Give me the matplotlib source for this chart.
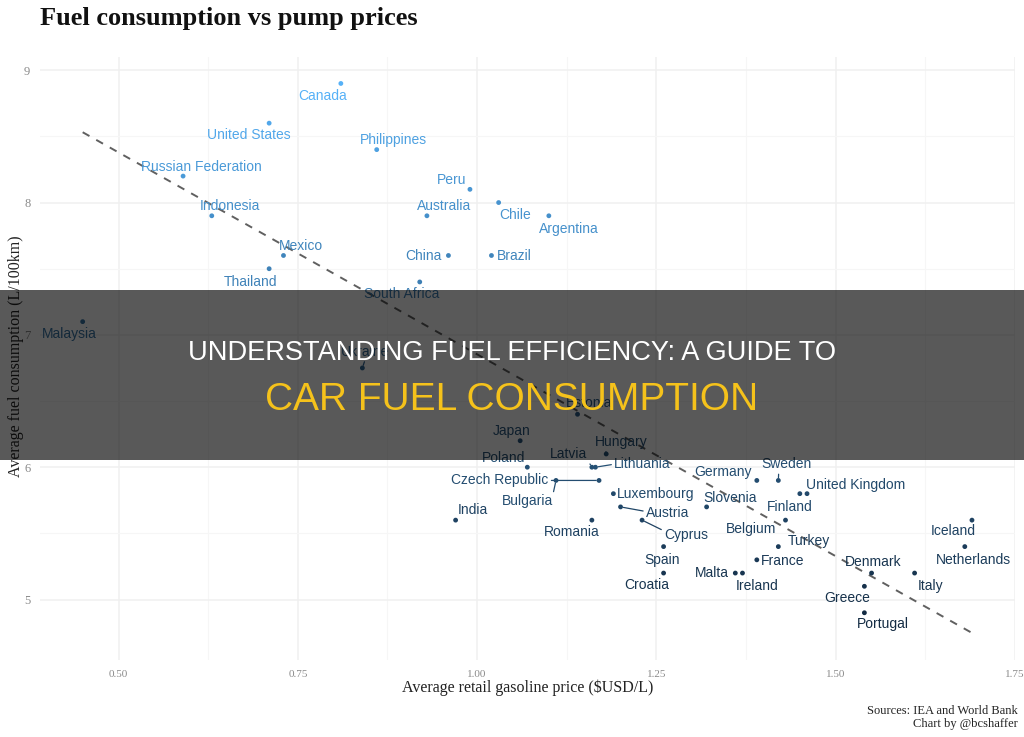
import numpy as np
import matplotlib.pyplot as plt
from matplotlib.colors import LinearSegmentedColormap
from matplotlib.patches import Rectangle

# data
countries = ['Canada', 'United States', 'Philippines', 'Russian Federation', 'Peru', 'Chile',
             'Indonesia', 'Australia', 'Argentina', 'Mexico', 'China', 'Brazil', 'Thailand',
             'South Africa', 'Malaysia', 'Ukraine', 'Estonia', 'Japan', 'Hungary', 'Poland',
             'Latvia', 'Lithuania', 'Czech Republic', 'Bulgaria', 'Luxembourg', 'Austria',
             'India', 'Romania', 'Cyprus', 'Spain', 'Croatia', 'Germany', 'Sweden', 'Finland',
             'United Kingdom', 'Slovenia', 'Belgium', 'Turkey', 'France', 'Malta', 'Ireland',
             'Denmark', 'Greece', 'Portugal', 'Italy', 'Iceland', 'Netherlands']
price = [0.81, 0.71, 0.86, 0.59, 0.99, 1.03,
         0.63, 0.93, 1.10, 0.73, 0.96, 1.02, 0.71,
         0.92, 0.45, 0.84, 1.14, 1.06, 1.18, 1.07,
         1.16, 1.165, 1.17, 1.11, 1.19, 1.20,
         0.97, 1.16, 1.23, 1.26, 1.26, 1.39, 1.42, 1.45,
         1.46, 1.32, 1.43, 1.42, 1.39, 1.36, 1.37,
         1.55, 1.54, 1.54, 1.61, 1.69, 1.68]
fuel = [8.9, 8.6, 8.4, 8.2, 8.1, 8.0,
        7.9, 7.9, 7.9, 7.6, 7.6, 7.6, 7.5,
        7.4, 7.1, 6.75, 6.4, 6.2, 6.1, 6.0,
        6.0, 6.0, 5.9, 5.9, 5.8, 5.7,
        5.6, 5.6, 5.6, 5.4, 5.2, 5.9, 5.9, 5.8,
        5.8, 5.7, 5.6, 5.4, 5.3, 5.2, 5.2,
        5.2, 5.1, 4.9, 5.2, 5.6, 5.4]

xticks = [0.50, 0.75, 1.00, 1.25, 1.50, 1.75]
yticks = [5, 6, 7, 8, 9]

# where each label sits, in pixels from its point (right, down)
label_off = {
    'Canada': (-18, 13), 'United States': (-20, 12), 'Philippines': (17, -10),
    'Russian Federation': (18, -9), 'Peru': (-18, -9), 'Chile': (16, 12),
    'Indonesia': (18, -10), 'Australia': (17, -10), 'Argentina': (20, 13),
    'Mexico': (17, -9), 'China': (-25, 1), 'Brazil': (23, 1), 'Thailand': (-19, 13),
    'South Africa': (-18, 12), 'Malaysia': (-13, 12), 'Ukraine': (3, -16),
    'Estonia': (12, -11), 'Japan': (-8, -10), 'Hungary': (15, -12), 'Poland': (-24, -9),
    'Latvia': (-23, -13), 'Lithuania': (47, -3), 'Czech Republic': (-99, 0),
    'Bulgaria': (-29, 21), 'Luxembourg': (42, 0), 'Austria': (47, 6),
    'India': (17, -10), 'Romania': (-20, 12), 'Cyprus': (44, 15), 'Spain': (-2, 13),
    'Croatia': (-17, 12), 'Germany': (-34, -8), 'Sweden': (8, -16), 'Finland': (-10, 13),
    'United Kingdom': (49, -9), 'Slovenia': (23, -9), 'Belgium': (-34, 9),
    'Turkey': (31, -6), 'France': (26, 1), 'Malta': (-23, 0), 'Ireland': (15, 13),
    'Denmark': (2, -11), 'Greece': (-17, 12), 'Portugal': (18, 11), 'Italy': (16, 13),
    'Iceland': (-19, 11), 'Netherlands': (9, 13),
}
# labels joined to their point by a segment, and the spot on the label it meets
leaders = {'Latvia': (1.0, 0.1), 'Lithuania': (0.0, 0.5), 'Czech Republic': (1.0, 0.5),
           'Bulgaria': (1.0, 0.9), 'Austria': (0.0, 0.6), 'Cyprus': (0.0, 0.8),
           'Sweden': (0.35, 0.1), 'Hungary': (0.2, 0.1), 'Ukraine': (0.5, 0.0)}

plt.rcParams['font.family'] = 'Liberation Sans'

fig = plt.figure(figsize=(10.24, 7.37), dpi=100)
ax = fig.add_axes([40 / 1024, 1 - 660 / 737, 975 / 1024, 603 / 737])

cmap = LinearSegmentedColormap.from_list('gg', ['#132B43', '#56B1F7'])
norm = plt.Normalize(min(fuel), max(fuel))
cols = cmap(norm(fuel))

ax.scatter(price, fuel, s=12, c=cols, linewidths=0, zorder=3)

# linear trend
fit = np.polyfit(price, fuel, 1)
xs = np.array([min(price), max(price)])
ax.plot(xs, np.polyval(fit, xs), ls=(0, (4, 4)), color='#606060', lw=1.4, zorder=2)

for name, x, y, c in zip(countries, price, fuel, cols):
    dx, dy = label_off[name]
    kw = {}
    if name in leaders:
        kw['arrowprops'] = dict(arrowstyle='-', color=c, lw=0.9, shrinkA=0, shrinkB=2,
                                relpos=leaders[name])
    ax.annotate(name, (x, y), xytext=(dx, -dy), textcoords='offset pixels',
                ha='center', va='center', fontsize=10, color=c, zorder=4, **kw)

ax.set_xlim(0.3905, 1.75)
ax.set_ylim(4.543, 9.10)
ax.set_xticks(xticks)
ax.set_xticklabels(['%.2f' % v for v in xticks])
ax.set_xticks(np.array(xticks[:-1]) + 0.125, minor=True)
ax.set_yticks(yticks)
ax.set_yticklabels([str(v) for v in yticks])
ax.set_yticks([5.5, 6.5, 7.5, 8.5], minor=True)
ax.grid(which='major', color='#f0f0f0', lw=1.1)
ax.grid(which='minor', color='#f6f6f6', lw=0.8)
ax.set_axisbelow(True)
ax.tick_params(which='both', length=0)
ax.tick_params(axis='x', pad=7, labelsize=8, labelcolor='#8a8a8a')
ax.tick_params(axis='y', pad=7, labelsize=9, labelcolor='#8a8a8a')
for lab in ax.get_xticklabels() + ax.get_yticklabels():
    lab.set_fontfamily('Liberation Serif')
for s in ax.spines.values():
    s.set_visible(False)

fig.text(40 / 1024, 1 - 18 / 737, 'Fuel consumption vs pump prices', fontfamily='Liberation Serif',
         fontweight='bold', fontsize=19, va='center', color='#111111')
fig.text(527.5 / 1024, 1 - 688 / 737, 'Average retail gasoline price ($USD/L)',
         fontfamily='Liberation Serif', fontsize=11.5, ha='center', va='center', color='#222222')
fig.text(16 / 1024, 1 - 356 / 737, 'Average fuel consumption (L/100km)', rotation=90,
         fontfamily='Liberation Serif', fontsize=11.5, ha='center', va='center', color='#222222')
fig.text(1018 / 1024, 1 - 711 / 737, 'Sources: IEA and World Bank', fontfamily='Liberation Serif',
         fontsize=9, ha='right', va='center', color='#222222')
fig.text(1018 / 1024, 1 - 724 / 737, 'Chart by @bcshaffer', fontfamily='Liberation Serif',
         fontsize=9, ha='right', va='center', color='#222222')

# dark banner across the middle
fig.add_artist(Rectangle((0, 1 - 460 / 737), 1, 170 / 737, transform=fig.transFigure,
                         facecolor='black', edgecolor='none', alpha=0.65, zorder=10))
fig.text(0.5, 1 - 353 / 737, 'UNDERSTANDING FUEL EFFICIENCY: A GUIDE TO', fontsize=19.6,
         color='white', ha='center', va='center', zorder=11)
fig.text(0.5, 1 - 400 / 737, 'CAR FUEL CONSUMPTION', fontsize=28, color='#F5C21B',
         ha='center', va='center', zorder=11)

fig.savefig('out.png', dpi=100)
